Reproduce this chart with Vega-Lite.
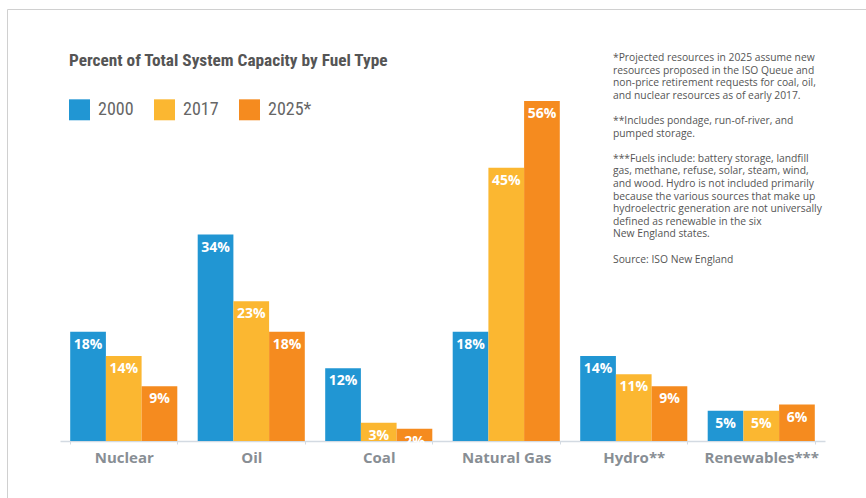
{
  "$schema": "https://vega.github.io/schema/vega-lite/v6.json",
  "width": 870,
  "height": 500,
  "autosize": {"type": "none"},
  "padding": {"left": 7, "top": 9, "right": 0, "bottom": 0},
  "background": "white",
  "title": {
    "text": [
      "*Projected resources in 2025 assume new",
      "resources proposed in the ISO Queue and",
      "non-price retirement requests for coal, oil,",
      "and nuclear resources as of early 2017.",
      "\u2800",
      "**Includes pondage, run-of-river, and",
      "pumped storage.",
      "\u2800",
      "***Fuels include: battery storage, landfill",
      "gas, methane, refuse, solar, steam, wind,",
      "and wood. Hydro is not included primarily",
      "because the various sources that make up",
      "hydroelectric generation are not universally",
      "defined as renewable in the six",
      "New England states.",
      "\u2800",
      "Source: ISO New England"
    ],
    "anchor": "start",
    "frame": "group",
    "align": "left",
    "baseline": "top",
    "offset": 0,
    "dx": 606,
    "dy": 256,
    "font": "Open Sans",
    "fontSize": 10.3,
    "fontWeight": "normal",
    "color": "#555555",
    "lineHeight": 12.6
  },
  "data": {
    "values": [
      {"fuel": "Nuclear", "year": "2000", "value": 0.18},
      {"fuel": "Nuclear", "year": "2017", "value": 0.14},
      {"fuel": "Nuclear", "year": "2025*", "value": 0.09},
      {"fuel": "Oil", "year": "2000", "value": 0.34},
      {"fuel": "Oil", "year": "2017", "value": 0.23},
      {"fuel": "Oil", "year": "2025*", "value": 0.18},
      {"fuel": "Coal", "year": "2000", "value": 0.12},
      {"fuel": "Coal", "year": "2017", "value": 0.03},
      {"fuel": "Coal", "year": "2025*", "value": 0.02},
      {"fuel": "Natural Gas", "year": "2000", "value": 0.18},
      {"fuel": "Natural Gas", "year": "2017", "value": 0.45},
      {"fuel": "Natural Gas", "year": "2025*", "value": 0.56},
      {"fuel": "Hydro**", "year": "2000", "value": 0.14},
      {"fuel": "Hydro**", "year": "2017", "value": 0.11},
      {"fuel": "Hydro**", "year": "2025*", "value": 0.09},
      {"fuel": "Renewables***", "year": "2000", "value": 0.05},
      {"fuel": "Renewables***", "year": "2017", "value": 0.05},
      {"fuel": "Renewables***", "year": "2025*", "value": 0.06}
    ]
  },
  "encoding": {
    "x": {
      "field": "fuel",
      "type": "nominal",
      "sort": ["Nuclear", "Oil", "Coal", "Natural Gas", "Hydro**", "Renewables***"],
      "scale": {"range": [53, 818], "paddingInner": 0.16, "paddingOuter": 0.08},
      "axis": {
        "title": null,
        "offset": -68,
        "domainColor": "#d3dae2",
        "domainWidth": 1.5,
        "tickBand": "extent",
        "tickColor": "#d3dae2",
        "tickSize": 3,
        "tickWidth": 1,
        "labelFont": "Open Sans",
        "labelFontSize": 15,
        "labelFontWeight": "bold",
        "labelColor": "#888e94",
        "labelPadding": 6,
        "labelAngle": 0,
        "labelLimit": 300,
        "grid": false
      }
    },
    "xOffset": {
      "field": "year",
      "type": "nominal",
      "sort": ["2000", "2017", "2025*"],
      "scale": {"paddingInner": 0, "paddingOuter": 0}
    },
    "y": {
      "field": "value",
      "type": "quantitative",
      "scale": {"domain": [0, 0.56], "range": [432, 92], "nice": false},
      "axis": null
    }
  },
  "layer": [
    {
      "mark": {"type": "bar"},
      "encoding": {
        "color": {
          "field": "year",
          "type": "nominal",
          "scale": {"domain": ["2000", "2017", "2025*"], "range": ["#2196d3", "#fbb731", "#f58b1f"]},
          "legend": {
            "orient": "none",
            "legendX": 62,
            "legendY": 43,
            "direction": "horizontal",
            "title": "Percent of Total System Capacity by Fuel Type",
            "titleFont": "Roboto Condensed",
            "titleFontSize": 17.3,
            "titleFontWeight": "bold",
            "titleColor": "#555555",
            "titleLimit": 1000,
            "titlePadding": 30,
            "symbolType": "square",
            "symbolSize": 440,
            "symbolStrokeWidth": 0,
            "symbolOpacity": 1,
            "labelFont": "Roboto Condensed",
            "labelFontSize": 18,
            "labelColor": "#666666",
            "labelOffset": 8,
            "columnPadding": 20,
            "padding": 0
          }
        }
      }
    },
    {
      "mark": {
        "type": "text",
        "baseline": "top",
        "align": "center",
        "dy": 6,
        "font": "Open Sans",
        "fontSize": 14,
        "fontWeight": "bold",
        "color": "white"
      },
      "encoding": {
        "text": {"field": "value", "type": "quantitative", "format": ".0%"}
      }
    }
  ],
  "config": {
    "view": {"stroke": "#d0d0d0", "strokeWidth": 1}
  }
}
